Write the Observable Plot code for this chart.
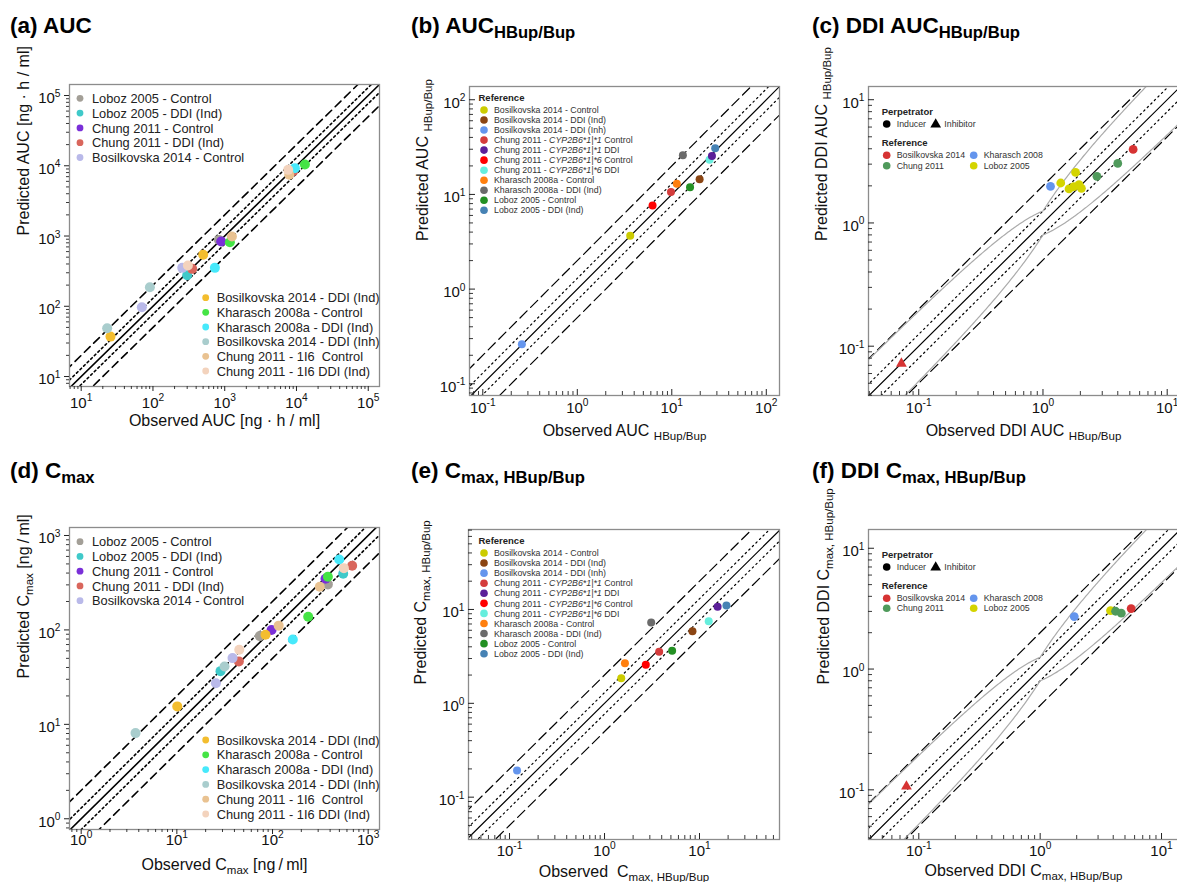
<!DOCTYPE html>
<html><head><meta charset="utf-8">
<script src="https://cdn.jsdelivr.net/npm/d3@7"></script>
<script src="https://cdn.jsdelivr.net/npm/@observablehq/plot@0.6"></script>
<style>
body{margin:0;background:#fff;overflow:hidden;}
#root{position:relative;width:1177px;height:882px;overflow:hidden;background:#fff;}
#root svg text{white-space:pre;}
</style></head><body><div id="root"></div>
<script>
const FONT = "'Liberation Sans', Arial, Helvetica, sans-serif";

// ---------------- DATA ----------------
// Panels (a) and (d): series names and colours
const adSeries = ["Loboz 2005 - Control","Loboz 2005 - DDI (Ind)","Chung 2011 - Control","Chung 2011 - DDI (Ind)","Bosilkovska 2014 - Control",
  "Bosilkovska 2014 - DDI (Ind)","Kharasch 2008a - Control","Kharasch 2008a - DDI (Ind)","Bosilkovska 2014 - DDI (Inh)","Chung 2011 - 1I6  Control","Chung 2011 - 1I6 DDI (Ind)"];
const adColors = ["#a39f97","#3fc9c9","#7a2fd8","#d9665c","#b9b9e9","#f3bd2e","#45e445","#47e9fb","#a9cdcd","#e9c291","#f3d3bd"];

// (a) AUC [ng*h/ml]
const aSeries = [0, 1, 2, 3, 3, 4, 4, 5, 5, 6, 6, 7, 7, 8, 8, 9, 9, 10, 10];
const aObs  = [830, 300, 893, 352, 9020, 256, 70, 501, 25.6, 13100, 1180, 9500, 729, 90.6, 23, 7920, 1260, 7670, 307];
const aPred = [881, 277, 836, 341, 8370, 352, 97, 540, 37, 10400, 816, 9250, 352, 187, 48.7, 7430, 984, 8750, 380];

// (d) Cmax [ng/ml]
const dSeries = [0, 0, 1, 1, 2, 2, 3, 3, 4, 4, 5, 5, 6, 6, 7, 7, 8, 8, 9, 9, 10, 10];
const dObs  = [73.7, 379, 28.6, 548, 97.7, 358, 44.5, 680, 38.2, 25.6, 10.1, 84.5, 236, 379, 163, 498, 3.7, 31.5, 312, 116, 557, 44.9];
const dPred = [86, 303, 36.6, 393, 100, 348, 46.4, 478, 50.3, 27.3, 15.5, 88.8, 138, 365, 79.3, 557, 8.08, 41, 286, 111, 451, 61.6];

// Panels (b) and (e): one point per series
const beSeries = ["Bosilkovska 2014 - Control","Bosilkovska 2014 - DDI (Ind)","Bosilkovska 2014 - DDI (Inh)",
  "Chung 2011 - *{CYP2B6*1|*1} Control","Chung 2011 - *{CYP2B6*1|*1} DDI","Chung 2011 - *{CYP2B6*1|*6} Control","Chung 2011 - *{CYP2B6*1|*6} DDI",
  "Kharasch 2008a - Control","Kharasch 2008a - DDI (Ind)","Loboz 2005 - Control","Loboz 2005 - DDI (Ind)"];
const beColors = ["#cccc00","#8b4513","#6495ed","#d43c3c","#5b1f99","#ff0000","#66eedd","#ff7f0e","#6b6b6b","#239023","#4682b4"];
const bObs  = [3.63, 19.7, 0.259, 9.8, 26.6, 6.26, 25.1, 11.3, 13.1, 15.6, 28.8];
const bPred = [3.66, 14.5, 0.262, 10.6, 25.4, 7.66, 23.2, 13.0, 26.0, 11.9, 30.8];
const eObs  = [1.5, 8.43, 0.12, 3.76, 15.5, 2.72, 12.5, 1.64, 3.1, 5.15, 19.2];
const ePred = [1.85, 5.87, 0.192, 3.54, 10.7, 2.57, 7.51, 2.68, 7.26, 3.63, 11.0];

// Panels (c) and (f): DDI ratios
const cfRefs = ["Bosilkovska 2014","Chung 2011","Kharasch 2008","Loboz 2005"];
const cfColors = ["#d63333","#4f9a5b","#6495ed","#d4d400"];
const perpetrators = ["Inducer","Inhibitor"];
const cRef  = [0, 0, 1, 1, 2, 3, 3, 3, 3, 3, 3];
const cPerp = [0, 1, 0, 0, 0, 0, 0, 0, 0, 0, 0];
const cObs  = [5.32, 0.0725, 4.0, 2.72, 1.15, 1.39, 1.83, 1.62, 1.95, 2.04, 1.77];
const cPred = [3.95, 0.0723, 3.04, 2.39, 1.98, 2.11, 2.57, 1.89, 2.05, 1.91, 1.97];
const fRef  = [0, 0, 3, 1, 1, 2];
const fPerp = [0, 1, 0, 0, 0, 0];
const fObs  = [5.62, 0.0791, 3.8, 4.18, 4.66, 1.91];
const fPred = [3.17, 0.1067, 3.05, 3.01, 2.9, 2.72];

// tick labels (major decades)
const ticksA = [10, 100, 1000, 10000, 100000];
const ticksB = [0.1, 1, 10, 100];
const ticksC = [0.1, 1, 10];
const ticksD = [1, 10, 100, 1000];
const ticksE = [0.1, 1, 10];
const ticksF = [0.1, 1, 10];

// ---------------- helpers ----------------
function rich(sel, str, base, o = {}) {
  const supS = o.supS ?? 0.68, supD = o.supD ?? -0.42, subS = o.subS ?? 0.72, subD = o.subD ?? 0.3;
  const parts = str.split(/(\^\{[^}]*\}|_\{[^}]*\}|\*\{[^}]*\})/).filter(s => s.length);
  let shift = 0;
  parts.forEach(s => {
    let t = s, fs = null, dy = 0, it = false;
    if (s.startsWith("^{")) { t = s.slice(2, -1); fs = base * supS; dy = base * supD; }
    else if (s.startsWith("_{")) { t = s.slice(2, -1); fs = base * subS; dy = base * subD; }
    else if (s.startsWith("*{")) { t = s.slice(2, -1); it = true; }
    const ts = sel.append("tspan").text(t);
    const d = dy - shift; shift = dy;
    if (d) ts.attr("dy", d.toFixed(2));
    if (fs) ts.attr("font-size", fs.toFixed(2));
    if (it) ts.attr("font-style", "italic");
  });
}
function postRich(svg) {
  svg.querySelectorAll("text").forEach(el => {
    const s = el.textContent;
    if (!/[\^_*]\{/.test(s)) return;
    let fs = 16, n = el;
    while (n && n.getAttribute) { const a = n.getAttribute("font-size"); if (a) { fs = parseFloat(a); break; } n = n.parentNode; }
    el.textContent = "";
    rich(d3.select(el), s, fs);
  });
}
function minorsOf(dom) {
  const lo = Math.floor(Math.log10(dom[0])), hi = Math.ceil(Math.log10(dom[1])), out = [];
  for (let e = lo; e <= hi; e++) for (let m = 2; m <= 9; m++) { const v = m * Math.pow(10, e); if (v > dom[0] && v < dom[1]) out.push(v); }
  return out;
}
function guestCurve(delta, upper) {
  const pts = [];
  for (let i = 0; i <= 320; i++) {
    const R = Math.pow(10, -1.6 + i * 0.01);
    const Rp = R >= 1 ? R : 1 / R;
    const lim = (delta + 2 * (Rp - 1)) / Rp;
    pts.push([R, upper ? R * lim : R / lim]);
  }
  return pts;
}

const root = document.getElementById("root");

function drawPanel(P, dataMarks) {
  const mL = 80, mR = 10, mT = 10, mB = 60;
  const fw = P.x1 - P.x0, fh = P.y1 - P.y0;
  const ppdX = fw / Math.log10(P.xd[1] / P.xd[0]);
  const ppdY = fh / Math.log10(P.yd[1] / P.yd[0]);
  const s = P.inward ? 1 : -1;
  const yEnd = len => P.yd[0] * Math.pow(10, s * len / ppdY);
  const xEnd = len => P.xd[0] * Math.pow(10, s * len / ppdX);
  const lo = Math.min(P.xd[0], P.yd[0]) / 5, hi = Math.max(P.xd[1], P.yd[1]) * 5;
  const seg = f => [[lo, lo * f], [hi, hi * f]];
  const L = (f, dash) => Plot.line(seg(f), {x: d => d[0], y: d => d[1], stroke: "#000", strokeWidth: P.lw, strokeDasharray: dash, clip: true});
  const minX = minorsOf(P.xd), minY = minorsOf(P.yd);
  const tk = "#222";
  const marks = [
    L(1, null), L(P.fold, P.dot), L(1 / P.fold, P.dot), L(2, P.dash), L(0.5, P.dash),
    ...(P.guest ? [
      Plot.line(guestCurve(1.25, true), {x: d => d[0], y: d => d[1], stroke: "#ababab", strokeWidth: 1.2, clip: true}),
      Plot.line(guestCurve(1.25, false), {x: d => d[0], y: d => d[1], stroke: "#ababab", strokeWidth: 1.2, clip: true})
    ] : []),
    ...dataMarks,
    Plot.frame({stroke: "#8c8c8c", strokeWidth: 1.3}),
    Plot.ruleX(P.ticks, {x: d => d, y1: P.yd[0], y2: yEnd(P.majLen), stroke: tk, strokeWidth: 1}),
    Plot.ruleX(minX, {x: d => d, y1: P.yd[0], y2: yEnd(P.minLen), stroke: tk, strokeWidth: 0.9}),
    Plot.ruleY(P.ticks, {y: d => d, x1: P.xd[0], x2: xEnd(P.majLen), stroke: tk, strokeWidth: 1}),
    Plot.ruleY(minY, {y: d => d, x1: P.xd[0], x2: xEnd(P.minLen), stroke: tk, strokeWidth: 0.9}),
    Plot.text(P.ticks, {x: d => d, frameAnchor: "bottom", dy: P.xtDy, text: d => "10^{" + Math.round(Math.log10(d)) + "}", fontSize: 15, fill: "#111", textAnchor: "middle"}),
    Plot.text(P.ticks, {y: d => d, frameAnchor: "left", dx: P.ytDx, dy: 3, text: d => "10^{" + Math.round(Math.log10(d)) + "}", fontSize: 15, fill: "#111", textAnchor: "end"}),
    Plot.text([P.xlab], {frameAnchor: "bottom", dy: P.xlDy, text: d => d, fontSize: 16, fill: "#111"}),
    Plot.text([P.ylab], {frameAnchor: "left", dx: P.ylDx, rotate: -90, text: d => d, fontSize: 16, fill: "#111"})
  ];
  const svg = Plot.plot({
    width: fw + mL + mR, height: fh + mT + mB,
    marginLeft: mL, marginRight: mR, marginTop: mT, marginBottom: mB,
    x: {type: "log", domain: P.xd, axis: null},
    y: {type: "log", domain: P.yd, axis: null},
    color: {type: "identity"},
    style: {fontFamily: FONT, background: "transparent", overflow: "visible"},
    marks
  });
  postRich(svg);
  svg.style.position = "absolute";
  svg.style.left = (P.x0 - mL) + "px";
  svg.style.top = (P.y0 - mT) + "px";
  root.appendChild(svg);
}

const idx = n => d3.range(n);
const adDots = (ser, obs, pred) => Plot.dot(idx(obs.length), {x: i => obs[i], y: i => pred[i], fill: i => adColors[ser[i]], r: 5});
const beDots = (obs, pred) => Plot.dot(idx(obs.length).reverse(), {x: i => obs[i], y: i => pred[i], fill: i => beColors[i], r: 4});
const cfDots = (ref, perp, obs, pred) => [
  Plot.dot(idx(obs.length).filter(i => perp[i] === 0), {x: i => obs[i], y: i => pred[i], fill: i => cfColors[ref[i]], r: 4.4}),
  Plot.dot(idx(obs.length).filter(i => perp[i] === 1), {x: i => obs[i], y: i => pred[i], fill: i => cfColors[ref[i]], r: 4, symbol: "triangle"})
];

const common1 = {lw: 1.6, dash: "8,5", dot: "2,3", majLen: 5, minLen: 3, inward: false};
const common2 = {lw: 1.2, dash: "10,5", dot: "1.5,3.5", majLen: 6, minLen: 4, inward: true};

drawPanel({...common1, x0: 69, x1: 379, y0: 84, y1: 386, xd: [6.87, 1.435e5], yd: [7.21, 1.435e5], ticks: ticksA, fold: 1.3,
  xtDy: 21, ytDx: -9, xlDy: 39, ylDx: -46, xlab: "Observed AUC [ng · h / ml]", ylab: "Predicted AUC [ng · h / ml]"},
  [adDots(aSeries, aObs, aPred)]);
drawPanel({...common2, x0: 469, x1: 779, y0: 86, y1: 395, xd: [0.0723, 138], yd: [0.0752, 138], ticks: ticksB, fold: 1.3,
  xtDy: 17, ytDx: -4, xlDy: 40, ylDx: -47, xlab: "Observed AUC _{HBup/Bup}", ylab: "Predicted AUC _{HBup/Bup}"},
  [beDots(bObs, bPred)]);
drawPanel({...common2, x0: 868, x1: 1178, y0: 86, y1: 395, xd: [0.0394, 12.33], yd: [0.0398, 12.8], ticks: ticksC, fold: 1.25, guest: true,
  xtDy: 17, ytDx: -4, xlDy: 40, ylDx: -47, xlab: "Observed DDI AUC _{HBup/Bup}", ylab: "Predicted DDI AUC _{HBup/Bup}"},
  cfDots(cRef, cPerp, cObs, cPred));
drawPanel({...common1, x0: 69, x1: 379, y0: 527, y1: 829, xd: [0.755, 1313], yd: [0.77, 1215], ticks: ticksD, fold: 1.3,
  xtDy: 15, ytDx: -9, xlDy: 40, ylDx: -46, xlab: "Observed C_{max} [ng\u2009/\u2009ml]", ylab: "Predicted C_{max} [ng\u2009/\u2009ml]"},
  [adDots(dSeries, dObs, dPred)]);
drawPanel({...common2, x0: 468, x1: 779, y0: 529, y1: 839, xd: [0.037, 69.5], yd: [0.0354, 71.1], ticks: ticksE, fold: 1.3,
  xtDy: 16, ytDx: -4, xlDy: 37, ylDx: -48, xlab: "Observed  C_{max, HBup/Bup}", ylab: "Predicted C_{max, HBup/Bup}"},
  [beDots(eObs, ePred)]);
drawPanel({...common2, x0: 868, x1: 1178, y0: 529, y1: 839, xd: [0.0385, 13.8], yd: [0.0388, 14.3], ticks: ticksF, fold: 1.25, guest: true,
  xtDy: 16, ytDx: -4, xlDy: 36, ylDx: -45, xlab: "Observed DDI C_{max, HBup/Bup}", ylab: "Predicted DDI C_{max, HBup/Bup}"},
  cfDots(fRef, fPerp, fObs, fPred));

// ---------------- titles & legends overlay ----------------
const ov = d3.create("svg").attr("width", 1177).attr("height", 882)
  .style("position", "absolute").style("left", "0px").style("top", "0px").style("pointer-events", "none")
  .style("font-family", FONT);
const titles = [
  ["(a) AUC", 10, 33], ["(b) AUC_{HBup/Bup}", 411, 33], ["(c) DDI AUC_{HBup/Bup}", 812, 33],
  ["(d) C_{max}", 10, 478], ["(e) C_{max, HBup/Bup}", 411, 478], ["(f) DDI C_{max, HBup/Bup}", 812, 478]
];
titles.forEach(([t, x, y]) => {
  const el = ov.append("text").attr("x", x).attr("y", y).attr("font-size", 22.5).attr("font-weight", "bold").attr("fill", "#000");
  rich(el, t, 22.5, {subS: 0.74, subD: 0.24});
});
function legendRows(items, colors, o) {
  items.forEach((t, i) => {
    const y = o.y0 + i * o.dy;
    ov.append("circle").attr("cx", o.dotX).attr("cy", y).attr("r", o.r).attr("fill", colors[i]);
    const el = ov.append("text").attr("x", o.textX).attr("y", y).attr("dy", "0.36em").attr("font-size", o.fs).attr("fill", o.color);
    rich(el, t, o.fs);
  });
}
function header(t, x, y) {
  ov.append("text").attr("x", x).attr("y", y).attr("dy", "0.36em").attr("font-size", 9.5).attr("font-weight", "bold").attr("fill", "#222").text(t);
}
// (a)
legendRows(adSeries.slice(0, 5), adColors.slice(0, 5), {dotX: 80, textX: 92, y0: 98.3, dy: 14.8, r: 3.4, fs: 12.8, color: "#222"});
legendRows(adSeries.slice(5), adColors.slice(5), {dotX: 205.7, textX: 216.7, y0: 297.7, dy: 14.66, r: 3.4, fs: 12.8, color: "#222"});
// (d)
legendRows(adSeries.slice(0, 5), adColors.slice(0, 5), {dotX: 80, textX: 92, y0: 541.7, dy: 14.75, r: 3.4, fs: 12.8, color: "#222"});
legendRows(adSeries.slice(5), adColors.slice(5), {dotX: 205.7, textX: 216.7, y0: 740, dy: 14.8, r: 3.4, fs: 12.8, color: "#222"});
// (b), (e)
header("Reference", 478.5, 97.7);
legendRows(beSeries, beColors, {dotX: 484, textX: 494, y0: 110, dy: 10.03, r: 3.8, fs: 8.8, color: "#333"});
header("Reference", 478.5, 540.7);
legendRows(beSeries, beColors, {dotX: 484, textX: 494, y0: 553, dy: 10.07, r: 3.8, fs: 8.8, color: "#333"});
// (c), (f)
function cfLegend(yP, yI, yR, yRows) {
  header("Perpetrator", 881.7, yP);
  ov.append("circle").attr("cx", 886.7).attr("cy", yI).attr("r", 3.8).attr("fill", "#000");
  ov.append("text").attr("x", 896.7).attr("y", yI).attr("dy", "0.36em").attr("font-size", 8.8).attr("fill", "#333").text(perpetrators[0]);
  ov.append("path").attr("d", d3.symbol(d3.symbolTriangle, 50)()).attr("transform", `translate(935.7,${yI + 0.5})`).attr("fill", "#000");
  ov.append("text").attr("x", 944.3).attr("y", yI).attr("dy", "0.36em").attr("font-size", 8.8).attr("fill", "#333").text(perpetrators[1]);
  header("Reference", 881.7, yR);
  cfRefs.forEach((t, i) => {
    const col = Math.floor(i / 2), row = i % 2;
    const dx = col ? 973.7 : 886.7, y = yRows[row];
    ov.append("circle").attr("cx", dx).attr("cy", y).attr("r", 3.8).attr("fill", cfColors[i]);
    ov.append("text").attr("x", dx + 10).attr("y", y).attr("dy", "0.36em").attr("font-size", 8.8).attr("fill", "#333").text(t);
  });
}
cfLegend(111.7, 124, 143, [155.3, 165.7]);
cfLegend(554.3, 567, 586, [598.3, 608.3]);
root.appendChild(ov.node());
</script></body></html>
